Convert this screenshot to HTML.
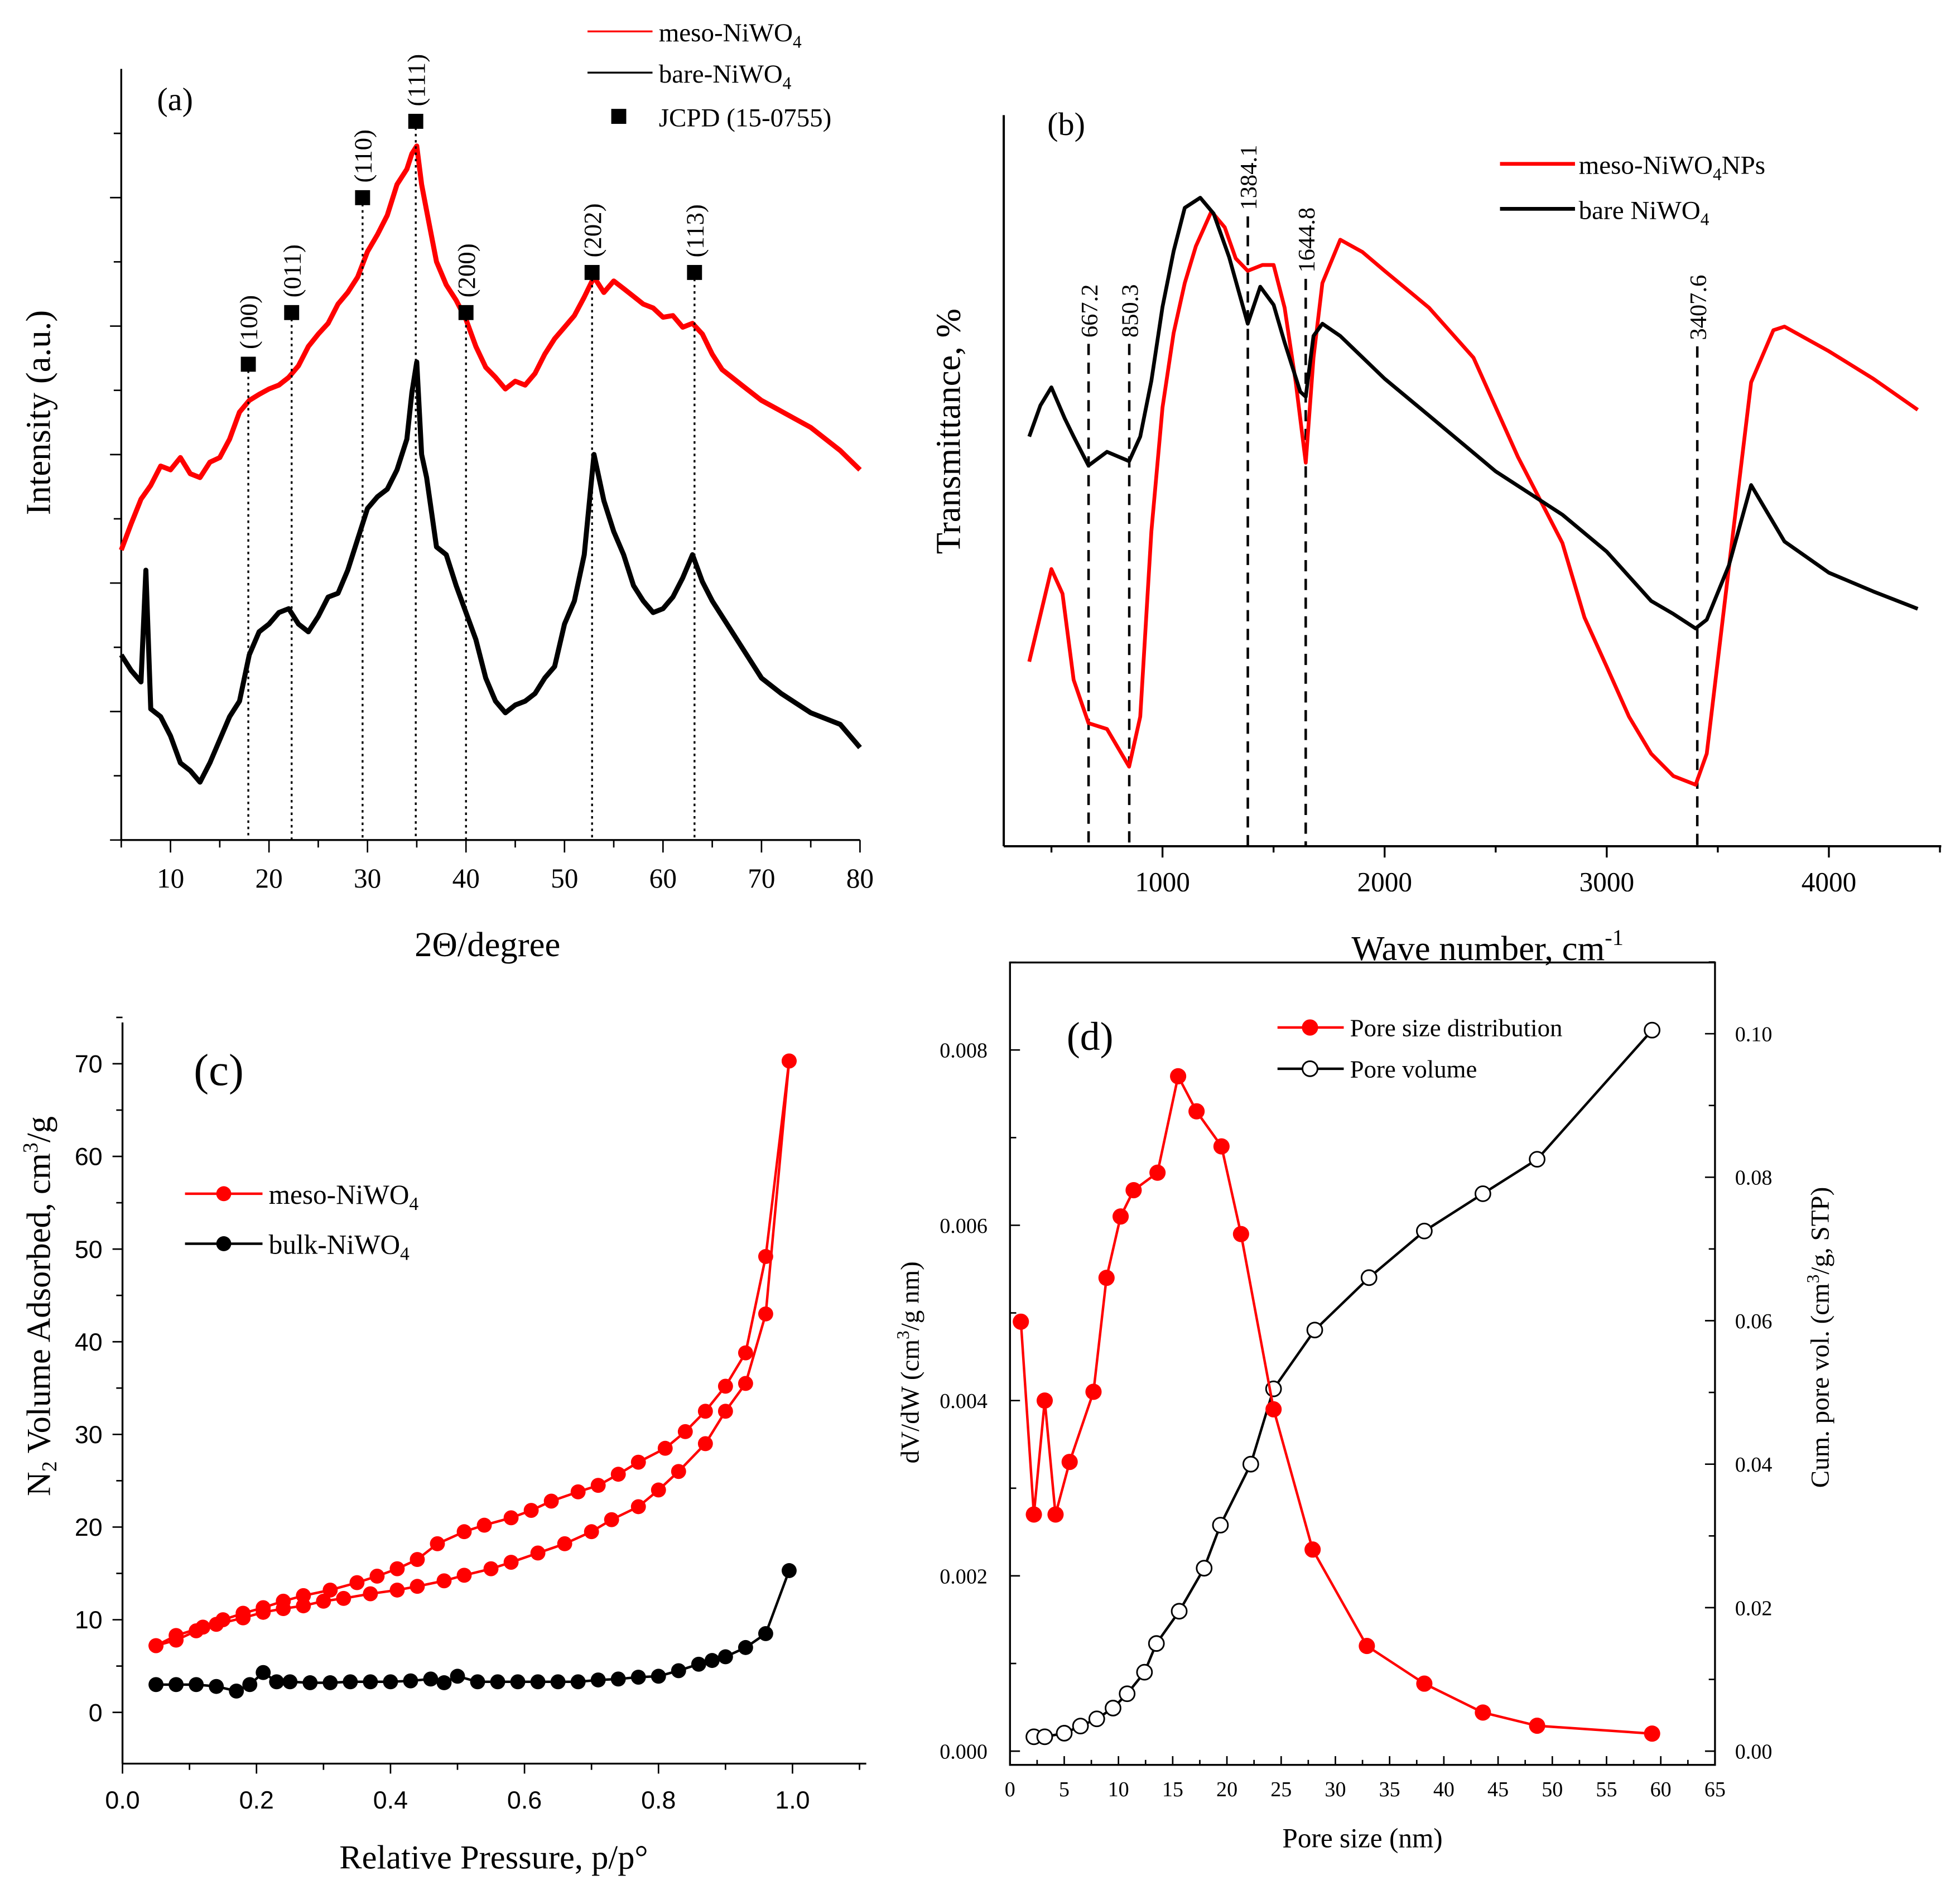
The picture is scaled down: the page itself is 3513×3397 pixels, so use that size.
<!DOCTYPE html>
<html><head><meta charset="utf-8"><style>
html,body{margin:0;padding:0;background:#fff}
svg{display:block;font-family:"Liberation Serif",serif}
</style></head><body>
<svg id="fig" width="3513" height="3397" viewBox="0 0 1568 1516" xmlns="http://www.w3.org/2000/svg">
<rect width="1568" height="1516" fill="#fff"/>
</svg>
<script>
// ---- Panel (a) XRD data ----
const aRedX=[5,6,7,8,9,10,11,12,13,14,15,16,17,18,19,20,21,22,23,24,25,26,27,28,29,30,31,32,33,34,34.5,35,35.5,36,37,38,39,40,41,42,43,44,45,46,47,48,49,50,51,52,53,54,55,56,57,58,59,60,61,62,63,64,65,66,67,68,70,72,75,78,80];
const aRedY=[37.6,41,44.2,46,48.5,48,49.6,47.5,47,49,49.6,52,55.5,57,57.8,58.5,59,60,61.5,64,65.6,67,69.5,71,73,76.3,78.5,81,85,87,89,90,85,81.6,75,72,70,67.5,64,61.3,60,58.5,59.5,59,60.5,63,65,66.5,68,70.4,73,71,72.5,71.5,70.5,69.5,69,67.8,68,66.5,67,65.6,63,61,60,59,57,55.6,53.5,50.5,48];
const aBlkX=[5,6,7,7.5,8,9,10,11,12,13,14,15,16,17,18,19,20,21,22,23,24,25,26,27,28,29,30,31,32,33,34,34.5,35,35.5,36,37,38,39,40,41,42,43,44,45,46,47,48,49,50,51,52,53,54,55,56,57,58,59,60,61,62,63,64,65,67,70,72,75,78,80];
const aBlkY=[24,22,20.5,35,17,16,13.5,10,9,7.5,10,13,16,18,24,27,28,29.5,30,28,27,29,31.5,32,35,39,43,44.5,45.5,48,52,58,62,50,47,38,37,33,29.5,26,21,18,16.5,17.5,18,19,21,22.5,28,31,37,50,44,40,37,33,31,29.5,30,31.5,34,37,33.5,31,27,21,19,16.5,15,12];
const aTickX=[10,20,30,40,50,60,70,80];
const aPeakLbl=["(100)","(011)","(110)","(111)","(200)","(202)","(113)"];
const aPeakPos=[17.9,22.3,29.5,34.9,40.0,52.8,63.2];
const aPeakH=[61.7,68.4,83.3,93.2,68.4,73.6,73.6];
// ---- Panel (b) FTIR data ----
const bRedX=[400,500,550,600,667,750,850,900,950,1000,1050,1100,1150,1220,1280,1330,1384,1450,1500,1550,1600,1645,1680,1720,1800,1900,2000,2200,2400,2600,2800,2900,3000,3100,3200,3300,3400,3450,3550,3650,3750,3800,4000,4200,4400];
const bRedY=[25.5,38.3,34.9,23,17,16.2,11,17.9,43.5,60.6,70.9,77.8,82.9,87.7,85.5,81.2,79.5,80.3,80.3,74.4,64.1,53,67.5,77.8,83.8,82.1,79.5,74.4,67.5,53.8,41.9,31.6,24.8,17.9,12.8,9.7,8.5,12.8,38.5,64.1,71.3,71.8,68.4,64.6,60.3];
const bBlkX=[400,450,500,560,600,667,750,850,900,950,1000,1050,1100,1170,1230,1300,1384,1440,1500,1550,1620,1645,1680,1720,1800,2000,2200,2500,2800,3000,3200,3300,3400,3450,3550,3650,3700,3800,4000,4200,4400];
const bBlkY=[56.6,60.9,63.4,59.1,56.6,52.6,54.5,53.2,56.6,64.3,74.5,82.2,88.2,89.6,87.4,81.4,72.2,77.3,74.8,69.6,62.8,62.1,70.5,72.2,70.5,64.6,59.5,51.8,45.8,40.7,33.9,32.1,30.1,31.3,38.8,49.9,47.3,42.1,37.8,35.2,32.8];
const bTickX=[1000,2000,3000,4000];
const bMarkLbl=["667.2","850.3","1384.1","1644.8","3407.6"];
const bMarkPos=[667.2,850.3,1384.1,1644.8,3407.6];
// ---- Panel (c) BET isotherm ----
const cAdsX=[0.05,0.08,0.11,0.14,0.18,0.21,0.24,0.27,0.3,0.33,0.37,0.41,0.44,0.48,0.51,0.55,0.58,0.62,0.66,0.7,0.73,0.77,0.8,0.83,0.87,0.9,0.93,0.96,0.995];
const cAdsY=[7.2,7.8,8.8,9.5,10.2,10.8,11.2,11.5,12,12.3,12.8,13.2,13.6,14.2,14.8,15.5,16.2,17.2,18.2,19.5,20.8,22.2,24,26,29,32.5,35.5,43,70.3];
const cDesX=[0.05,0.08,0.12,0.15,0.18,0.21,0.24,0.27,0.31,0.35,0.38,0.41,0.44,0.47,0.51,0.54,0.58,0.61,0.64,0.68,0.71,0.74,0.77,0.81,0.84,0.87,0.9,0.93,0.96,0.995];
const cDesY=[7.2,8.3,9.2,10,10.7,11.3,12,12.6,13.2,14,14.7,15.5,16.5,18.2,19.5,20.2,21,21.8,22.8,23.8,24.5,25.7,27,28.5,30.3,32.5,35.2,38.8,49.2,70.3];
const cBulkX=[0.05,0.08,0.11,0.14,0.17,0.19,0.21,0.23,0.25,0.28,0.31,0.34,0.37,0.4,0.43,0.46,0.48,0.5,0.53,0.56,0.59,0.62,0.65,0.68,0.71,0.74,0.77,0.8,0.83,0.86,0.88,0.9,0.93,0.96,0.995];
const cBulkY=[3,3,3,2.8,2.3,3,4.3,3.3,3.3,3.2,3.2,3.3,3.3,3.3,3.4,3.6,3.2,3.9,3.3,3.3,3.3,3.3,3.3,3.3,3.5,3.6,3.8,3.9,4.5,5.2,5.6,6,7,8.5,15.3];
const cTickX=[0,0.2,0.4,0.6,0.8,1.0];
const cTickY=[0,10,20,30,40,50,60,70];
// ---- Panel (d) pore size ----
const dPsdX=[1.0,2.2,3.2,4.2,5.5,7.7,8.9,10.2,11.4,13.6,15.5,17.2,19.5,21.3,24.3,27.9,32.9,38.2,43.6,48.6,59.2];
const dPsdY=[0.0049,0.0027,0.0040,0.0027,0.0033,0.0041,0.0054,0.0061,0.0064,0.0066,0.0077,0.0073,0.0069,0.0059,0.0039,0.0023,0.0012,0.00077,0.00044,0.00029,0.0002];
const dCumX=[2.2,3.2,5,6.5,8,9.5,10.8,12.4,13.5,15.6,17.9,19.4,22.2,24.3,28.1,33.1,38.2,43.6,48.6,59.2];
const dCumY=[0.002,0.002,0.0025,0.0035,0.0045,0.006,0.008,0.011,0.015,0.0195,0.0255,0.0315,0.040,0.0505,0.0587,0.066,0.0725,0.0777,0.0825,0.1005];
const dTickX=[0,5,10,15,20,25,30,35,40,45,50,55,60,65];
const dTickYL=[0,0.002,0.004,0.006,0.008];
const dTickYR=[0,0.02,0.04,0.06,0.08,0.10];

const NS="http://www.w3.org/2000/svg";
const svg=document.getElementById('fig');
function mk(tag,attrs,parent,txt){const e=document.createElementNS(NS,tag);for(const k in attrs)e.setAttribute(k,attrs[k]);if(txt!==undefined)e.textContent=txt;(parent||svg).appendChild(e);return e;}
function grp(name){const g=mk('g',{});


return g;}
function pts(xs,ys,fx,fy){return xs.map((x,i)=>fx(x).toFixed(1)+','+fy(ys[i]).toFixed(1)).join(' ');}

// ===== Panel A =====
(function(){
const g=grp('panel-a-xrd');
const fx=v=>97+(v-5)*(688-97)/75, fy=v=>672-v*6.17;
mk('line',{x1:97,y1:55,x2:97,y2:672,stroke:'#000','stroke-width':1.5},g);
mk('line',{x1:97,y1:672,x2:688,y2:672,stroke:'#000','stroke-width':1.5},g);
for(let i=0;i<12;i++){const y=672-i*51.4;mk('line',{x1:97,y1:y,x2:i%2?91:88,y2:y,stroke:'#000','stroke-width':1.2},g);}
for(let v=5;v<=80;v+=5){const x=fx(v);mk('line',{x1:x,y1:672,x2:x,y2:v%10?678:682,stroke:'#000','stroke-width':1.2},g);}
aTickX.forEach(v=>{const t=mk('text',{x:fx(v),y:710,'font-size':22,'text-anchor':'middle'},g,String(v));

});
const red=mk('polyline',{points:pts(aRedX,aRedY,fx,fy),fill:'none',stroke:'#f00','stroke-width':4,'stroke-linejoin':'round'},g);


const blk=mk('polyline',{points:pts(aBlkX,aBlkY,fx,fy),fill:'none',stroke:'#000','stroke-width':4,'stroke-linejoin':'round'},g);


aPeakPos.forEach((p,i)=>{const x=fx(p),y=fy(aPeakH[i]);
mk('line',{x1:x,y1:y,x2:x,y2:672,stroke:'#000','stroke-width':1.5,'stroke-dasharray':'2,3'},g);
const s=mk('rect',{x:x-6,y:y-6,width:12,height:12,fill:'#000'},g);


const t=mk('text',{x:x+7,y:y-12,'font-size':20,transform:`rotate(-90 ${x+7} ${y-12})`},g,aPeakLbl[i]);

});
mk('text',{x:140,y:88,'font-size':26,'text-anchor':'middle'},g,'(a)');
mk('text',{x:40,y:330,'font-size':28,'text-anchor':'middle',transform:'rotate(-90 40 330)'},g,'Intensity (a.u.)');
mk('text',{x:390,y:765,'font-size':28,'text-anchor':'middle'},g,'2Θ/degree');
const lg=grp('legend-a');
mk('line',{x1:470,y1:25,x2:522,y2:25,stroke:'#f00','stroke-width':1.5},lg);
mk('text',{x:527,y:33,'font-size':21},lg).innerHTML='meso-NiWO<tspan font-size="14" dy="5">4</tspan>';
mk('line',{x1:470,y1:58,x2:522,y2:58,stroke:'#000','stroke-width':1.5},lg);
mk('text',{x:527,y:66,'font-size':21},lg).innerHTML='bare-NiWO<tspan font-size="14" dy="5">4</tspan>';
mk('rect',{x:489,y:87,width:12,height:12,fill:'#000'},lg);
mk('text',{x:527,y:101,'font-size':21},lg,'JCPD (15-0755)');
})();

// ===== Panel B =====
(function(){
const g=grp('panel-b-ftir');
const fx=v=>930+(v-1000)*0.1777, fy=v=>677-v*5.85*0.99;
const labTop=[270,270,168,218,272];
mk('line',{x1:803,y1:92,x2:803,y2:677,stroke:'#000','stroke-width':1.8},g);
mk('line',{x1:803,y1:677,x2:1553,y2:677,stroke:'#000','stroke-width':1.8},g);
for(let v=500;v<=4500;v+=500){const x=fx(v);mk('line',{x1:x,y1:677,x2:x,y2:v%1000?682:686,stroke:'#000','stroke-width':1.5},g);}
bTickX.forEach(v=>{const t=mk('text',{x:fx(v),y:713,'font-size':22,'text-anchor':'middle'},g,String(v));

});
bMarkPos.forEach((p,i)=>{const x=fx(p),yt=labTop[i];
mk('line',{x1:x,y1:yt+5,x2:x,y2:677,stroke:'#000','stroke-width':2,'stroke-dasharray':'9,6'},g);
const t=mk('text',{x:x+7,y:yt,'font-size':19,transform:`rotate(-90 ${x+7} ${yt})`},g,bMarkLbl[i]);

});
const red=mk('polyline',{points:pts(bRedX,bRedY,fx,fy),fill:'none',stroke:'#f00','stroke-width':3,'stroke-linejoin':'round'},g);


const blk=mk('polyline',{points:pts(bBlkX,bBlkY,fx,fy),fill:'none',stroke:'#000','stroke-width':3,'stroke-linejoin':'round'},g);


mk('text',{x:853,y:108,'font-size':26,'text-anchor':'middle'},g,'(b)');
mk('text',{x:768,y:345,'font-size':28,'text-anchor':'middle',transform:'rotate(-90 768 345)'},g,'Transmittance, %');
mk('text',{x:1190,y:768,'font-size':28,'text-anchor':'middle'},g).innerHTML='Wave number, cm<tspan font-size="18" dy="-12">-1</tspan>';
const lg=grp('legend-b');
mk('line',{x1:1200,y1:131,x2:1260,y2:131,stroke:'#f00','stroke-width':3},lg);
mk('text',{x:1263,y:139,'font-size':21},lg).innerHTML='meso-NiWO<tspan font-size="14" dy="5">4</tspan><tspan dy="-5">NPs</tspan>';
mk('line',{x1:1200,y1:167,x2:1260,y2:167,stroke:'#000','stroke-width':3},lg);
mk('text',{x:1263,y:175,'font-size':21},lg).innerHTML='bare NiWO<tspan font-size="14" dy="5">4</tspan>';
})();

// ===== Panel C =====
(function(){
const g=grp('panel-c-isotherm');
const fx=v=>98+v*536, fy=v=>1370-v*7.414;
mk('line',{x1:98,y1:818,x2:98,y2:1411,stroke:'#000','stroke-width':1.5},g);
mk('line',{x1:98,y1:1411,x2:693,y2:1411,stroke:'#000','stroke-width':1.5},g);
for(let v=0;v<=1.1;v+=0.1){const x=fx(v);mk('line',{x1:x,y1:1411,x2:x,y2:Math.round(v*10)%2?1416:1419,stroke:'#000','stroke-width':1.2},g);}
for(let v=0;v<=75;v+=5){const y=fy(v);mk('line',{x1:98,y1:y,x2:v%10?93:90,y2:y,stroke:'#000','stroke-width':1.2},g);}
cTickX.forEach(v=>{const t=mk('text',{x:fx(v),y:1447,'font-size':20,'text-anchor':'middle','font-family':'Liberation Sans'},g,v.toFixed(1));

});
cTickY.forEach(v=>{const t=mk('text',{x:82,y:fy(v)+7,'font-size':20,'text-anchor':'end','font-family':'Liberation Sans'},g,String(v));

});
function series(xs,ys,col,name){const s=grp(name);
mk('polyline',{points:pts(xs,ys,fx,fy),fill:'none',stroke:col,'stroke-width':2},s);
xs.forEach((x,i)=>mk('circle',{cx:fx(x),cy:fy(ys[i]),r:6,fill:col},s));}
series(cAdsX,cAdsY,'#f00','meso-adsorption-series');
series(cDesX,cDesY,'#f00','meso-desorption-series');
series(cBulkX,cBulkY,'#000','bulk-niwo4-series');
mk('text',{x:175,y:868,'font-size':36,'text-anchor':'middle'},g,'(c)');
mk('text',{x:40,y:1045,'font-size':27,'text-anchor':'middle',transform:'rotate(-90 40 1045)'},g).innerHTML='N<tspan font-size="17" dy="5">2</tspan><tspan dy="-5"> Volume Adsorbed, cm</tspan><tspan font-size="17" dy="-10">3</tspan><tspan dy="10">/g</tspan>';
mk('text',{x:395,y:1495,'font-size':27,'text-anchor':'middle'},g,'Relative Pressure, p/p°');
const lg=grp('legend-c');
mk('line',{x1:148,y1:955,x2:210,y2:955,stroke:'#f00','stroke-width':2},lg);
mk('circle',{cx:179,cy:955,r:6,fill:'#f00'},lg);
mk('text',{x:215,y:963,'font-size':22},lg).innerHTML='meso-NiWO<tspan font-size="15" dy="5">4</tspan>';
mk('line',{x1:148,y1:995,x2:210,y2:995,stroke:'#000','stroke-width':2},lg);
mk('circle',{cx:179,cy:995,r:6,fill:'#000'},lg);
mk('text',{x:215,y:1003,'font-size':22},lg).innerHTML='bulk-NiWO<tspan font-size="15" dy="5">4</tspan>';
})();

// ===== Panel D =====
(function(){
const g=grp('panel-d-pore-size');
const fx=v=>808+v*8.677, fyL=v=>1401-v*70125, fyR=v=>1401-v*5740;
mk('rect',{x:808,y:770,width:564,height:642,fill:'none',stroke:'#000','stroke-width':1.5},g);
for(let v=0;v<=65;v+=2.5){const x=fx(v);mk('line',{x1:x,y1:1412,x2:x,y2:v%5?1408:1405,stroke:'#000','stroke-width':1.2},g);}
for(let v=0;v<=0.0091;v+=0.001){const y=fyL(v);mk('line',{x1:808,y1:y,x2:Math.round(v*1000)%2?813:816,y2:y,stroke:'#000','stroke-width':1.2},g);}
for(let v=0;v<=0.111;v+=0.01){const y=fyR(v);mk('line',{x1:1372,y1:y,x2:Math.round(v*100)%2?1367:1364,y2:y,stroke:'#000','stroke-width':1.2},g);}
dTickX.forEach(v=>{const t=mk('text',{x:fx(v),y:1437,'font-size':17,'text-anchor':'middle'},g,String(v));

});
dTickYL.forEach(v=>{const t=mk('text',{x:790,y:fyL(v)+6,'font-size':17,'text-anchor':'end'},g,v.toFixed(3));

});
dTickYR.forEach(v=>{const t=mk('text',{x:1388,y:fyR(v)+6,'font-size':17},g,v.toFixed(2));

});
const cum=grp('pore-volume-series');
mk('polyline',{points:pts(dCumX,dCumY,fx,fyR),fill:'none',stroke:'#000','stroke-width':2},cum);
dCumX.forEach((x,i)=>mk('circle',{cx:fx(x),cy:fyR(dCumY[i]),r:6,fill:'#fff',stroke:'#000','stroke-width':1.3},cum));
const psd=grp('pore-size-distribution-series');
mk('polyline',{points:pts(dPsdX,dPsdY,fx,fyL),fill:'none',stroke:'#f00','stroke-width':2},psd);
dPsdX.forEach((x,i)=>mk('circle',{cx:fx(x),cy:fyL(dPsdY[i]),r:6.5,fill:'#f00'},psd));
mk('text',{x:872,y:840,'font-size':32,'text-anchor':'middle'},g,'(d)');
mk('text',{x:1090,y:1478,'font-size':22,'text-anchor':'middle'},g,'Pore size (nm)');
mk('text',{x:735,y:1090,'font-size':21,'text-anchor':'middle',transform:'rotate(-90 735 1090)'},g).innerHTML='dV/dW (cm<tspan font-size="14" dy="-8">3</tspan><tspan dy="8">/g nm)</tspan>';
mk('text',{x:1463,y:1070,'font-size':21,'text-anchor':'middle',transform:'rotate(-90 1463 1070)'},g).innerHTML='Cum. pore vol. (cm<tspan font-size="14" dy="-8">3</tspan><tspan dy="8">/g, STP)</tspan>';
const lg=grp('legend-d');
mk('line',{x1:1022,y1:822,x2:1075,y2:822,stroke:'#f00','stroke-width':2},lg);
mk('circle',{cx:1048,cy:822,r:6.5,fill:'#f00'},lg);
mk('text',{x:1080,y:829,'font-size':20},lg,'Pore size distribution');
mk('line',{x1:1022,y1:855,x2:1075,y2:855,stroke:'#000','stroke-width':2},lg);
mk('circle',{cx:1048,cy:855,r:6,fill:'#fff',stroke:'#000','stroke-width':1.3},lg);
mk('text',{x:1080,y:862,'font-size':20},lg,'Pore volume');
})();
</script>
</body></html>
